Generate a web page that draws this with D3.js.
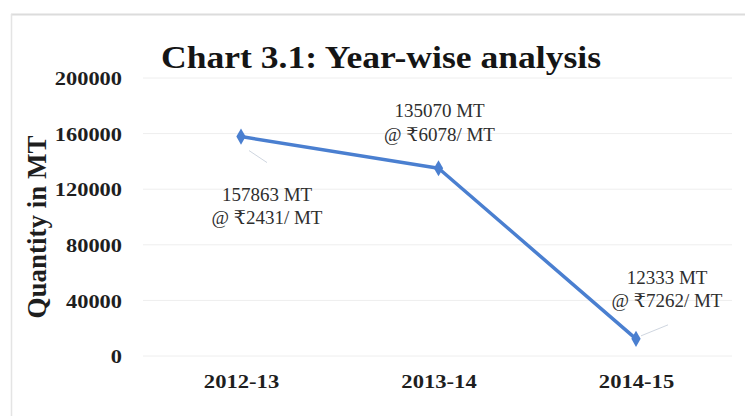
<!DOCTYPE html>
<html>
<head>
<meta charset="utf-8">
<script src="https://cdn.jsdelivr.net/npm/d3@7"></script>
<style>
  html, body { margin: 0; padding: 0; background: #fff; }
  svg { display: block; }
</style>
</head>
<body>
<svg id="chart" width="745" height="416"></svg>
<script>
// Year-wise quantity with average rate per MT
const years = ["2012-13", "2013-14", "2014-15"];
const quantities = [157863, 135070, 12333];
const rates = [2431, 6078, 7262];
const yTicks = [0, 40000, 80000, 120000, 160000, 200000];

const svg = d3.select("#chart");
const W = 745, H = 416;
const serif = "'Liberation Serif', 'DejaVu Serif', 'Times New Roman', serif";

// Frame of the chart area
svg.append("line").attr("x1", 11).attr("x2", W).attr("y1", 14.5).attr("y2", 14.5)
  .attr("stroke", "#dcdcdc").attr("stroke-width", 2);
svg.append("line").attr("x1", 11.5).attr("x2", 11.5).attr("y1", 14).attr("y2", H)
  .attr("stroke", "#e4e4e4").attr("stroke-width", 1.5);

const x = d3.scalePoint().domain(years).range([241, 636]);
const y = d3.scaleLinear().domain([0, 200000]).range([356, 78]);

// Horizontal gridlines
svg.append("g").selectAll("line").data(yTicks).join("line")
  .attr("x1", 143).attr("x2", 732)
  .attr("y1", d => y(d)).attr("y2", d => y(d))
  .attr("stroke", "#eeeeee").attr("stroke-width", 1);

// Y axis labels
const yAxis = d3.axisLeft(y).tickValues(yTicks).tickSize(0).tickPadding(0).tickFormat(d3.format("d"));
const gy = svg.append("g").attr("transform", "translate(122,0)").call(yAxis);
gy.select(".domain").remove();
gy.selectAll("text").attr("font-family", serif).attr("font-weight", "bold")
  .attr("font-size", 19.5).attr("fill", "#1e1e1e").attr("dy", "0.34em")
  .attr("transform", "scale(1.15,1)");

// X axis labels
const xAxis = d3.axisBottom(x).tickSize(0).tickPadding(0);
const gx = svg.append("g").attr("transform", "translate(0,388)").call(xAxis);
gx.select(".domain").remove();
gx.selectAll("text").attr("font-family", serif).attr("font-weight", "bold")
  .attr("font-size", 19.5).attr("fill", "#1e1e1e").attr("dy", 0).attr("y", 0)
  .attr("transform", "scale(1.16,1)");

// Title
svg.append("text").attr("x", 381).attr("y", 68).attr("text-anchor", "middle")
  .attr("font-family", serif).attr("font-weight", "bold").attr("font-size", 32)
  .attr("textLength", 440).attr("lengthAdjust", "spacingAndGlyphs")
  .attr("fill", "#151515").text("Chart 3.1: Year-wise analysis");

// Y axis title
svg.append("text").attr("transform", "translate(46,227) rotate(-90)")
  .attr("text-anchor", "middle").attr("font-family", serif).attr("font-weight", "bold")
  .attr("font-size", 27).attr("fill", "#1e1e1e").text("Quantity in MT");

const data = years.map((yr, i) => ({ yr, q: quantities[i], r: rates[i] }));

// Label centre and first baseline relative to each point, plus leader lines
const labelPos = [
  { dx: 26, dy: 64, leader: [8, 14, 26, 26] },
  { dx: 1, dy: -51, leader: null },
  { dx: 31, dy: -55, leader: [5, -3, 32, -14] }
];

// Leader lines
svg.append("g").selectAll("line").data(data.filter((d, i) => labelPos[i].leader)).join("line")
  .each(function(d) {
    const i = years.indexOf(d.yr);
    const L = labelPos[i].leader;
    d3.select(this)
      .attr("x1", x(d.yr) + L[0]).attr("y1", y(d.q) + L[1])
      .attr("x2", x(d.yr) + L[2]).attr("y2", y(d.q) + L[3]);
  })
  .attr("stroke", "#cfd6e0").attr("stroke-width", 1);

// Line
svg.append("path").datum(data)
  .attr("d", d3.line().x(d => x(d.yr)).y(d => y(d.q)))
  .attr("fill", "none").attr("stroke", "#4a7fd0").attr("stroke-width", 3.5)
  .attr("stroke-linejoin", "round");

// Diamond markers
svg.append("g").selectAll("path").data(data).join("path")
  .attr("transform", d => `translate(${x(d.yr)},${y(d.q)})`)
  .attr("d", d3.symbol().type(d3.symbolDiamond).size(75))
  .attr("fill", "#4a7fd0");

// Data labels
const lab = svg.append("g").selectAll("text").data(data).join("text")
  .attr("text-anchor", "middle").attr("font-family", serif).attr("font-size", 19)
  .attr("fill", "#2e2e2e")
  .attr("transform", (d, i) => `translate(${x(d.yr) + labelPos[i].dx},${y(d.q) + labelPos[i].dy})`);
lab.append("tspan").attr("x", 0).attr("y", 0).text(d => `${d.q} MT`);
lab.append("tspan").attr("x", 0).attr("y", 23.5).text(d => `@ ₹${d.r}/ MT`);
</script>
</body>
</html>
